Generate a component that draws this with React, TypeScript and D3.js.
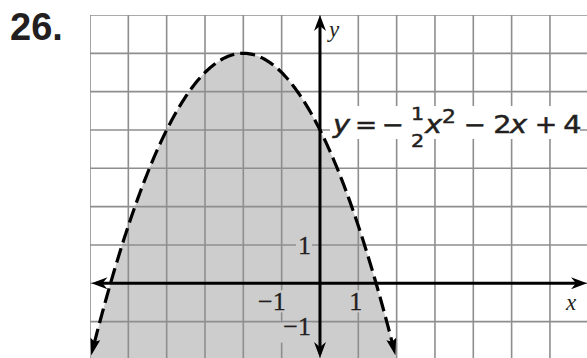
import React from "react";
import * as d3 from "d3";

const xGridValues = [-6, -5, -4, -3, -2, -1, 0, 1, 2, 3, 4, 5, 6, 7];
const yGridValues = [-2, -1, 0, 1, 2, 3, 4, 5, 6, 7];
const coefA = -0.5;
const coefB = -2;
const coefC = 4;
const curveXStart = -5.97;
const curveXEnd = 1.97;
const curveSamples = 200;
const xTickLabels = [
  { value: -1, text: "\u22121" },
  { value: 1, text: "1" },
];
const yTickLabels = [
  { value: 1, text: "1" },
  { value: -1, text: "\u22121" },
];
const titleText = "26.";

const W = 587;
const H = 358;
const GRAY = "#cdcdcd";
const GRID = "#8e8e8e";
const INK = "#231f20";

const f = (x: number) => coefA * x * x + coefB * x + coefC;

function arrowHead(tipX: number, tipY: number, angle: number, len: number, half: number, notch: number) {
  const cos = Math.cos(angle);
  const sin = Math.sin(angle);
  const bx = tipX - cos * len;
  const by = tipY - sin * len;
  const nx = -sin;
  const ny = cos;
  const p1 = [bx + nx * half, by + ny * half];
  const p2 = [bx - nx * half, by - ny * half];
  const pn = [tipX - cos * (len - notch), tipY - sin * (len - notch)];
  return `M${tipX},${tipY}L${p1[0]},${p1[1]}L${pn[0]},${pn[1]}L${p2[0]},${p2[1]}Z`;
}

function Glyph(props: {
  cx: number;
  by: number;
  size: number;
  sx?: number;
  italic?: boolean;
  children: React.ReactNode;
}) {
  const sx = props.sx ?? 1.15;
  return (
    <g transform={`translate(${props.cx},${props.by}) scale(${sx},1)`}>
      <text
        x={0}
        y={0}
        textAnchor="middle"
        fontFamily="'DejaVu Sans', sans-serif"
        fontSize={props.size}
        fontStyle={props.italic ? "italic" : "normal"}
        fill={INK}
        stroke={INK}
        strokeWidth={0.5}
      >
        {props.children}
      </text>
    </g>
  );
}

export default function App() {
  const x = d3.scaleLinear().domain([-6, 7]).range([90, 90 + 13 * 38.33]);
  const y = d3.scaleLinear().domain([-2, 7]).range([15 + 9 * 38.33, 15]);

  const pts: [number, number][] = d3.range(curveSamples + 1).map((i) => {
    const xv = curveXStart + ((curveXEnd - curveXStart) * i) / curveSamples;
    return [xv, f(xv)] as [number, number];
  });

  const line = d3
    .line<[number, number]>()
    .x((d) => x(d[0]))
    .y((d) => y(d[1]));

  const areaPts: [number, number][] = d3.range(curveSamples + 1).map((i) => {
    const xv = -6.5 + (9 * i) / curveSamples;
    return [xv, f(xv)] as [number, number];
  });
  const area = d3
    .area<[number, number]>()
    .x((d) => x(d[0]))
    .y0(() => y(-3))
    .y1((d) => y(d[1]));

  const gx0 = x(-6);
  const gy0 = y(7);

  const first = pts[0];
  const second = pts[3];
  const last = pts[pts.length - 1];
  const prev = pts[pts.length - 4];
  const angStart = Math.atan2(y(first[1]) - y(second[1]), x(first[0]) - x(second[0]));
  const angEnd = Math.atan2(y(last[1]) - y(prev[1]), x(last[0]) - x(prev[0]));

  const ax0 = x(0);
  const ay0 = y(0);

  return (
    <svg width={W} height={H} style={{ position: "absolute", left: 0, top: 0, background: "#fff" }}>
      <defs>
        <clipPath id="gridClip">
          <rect x={gx0} y={gy0} width={W - gx0} height={H - gy0} />
        </clipPath>
      </defs>
      <text
        x={10}
        y={40}
        fontFamily="'Liberation Sans', Arial, sans-serif"
        fontWeight="bold"
        fontSize={38}
        fill={INK}
      >
        {titleText}
      </text>
      <g clipPath="url(#gridClip)">
        <path d={area(areaPts) || ""} fill={GRAY} />
        {xGridValues.map((v) => (
          <line key={"gx" + v} x1={x(v)} x2={x(v)} y1={gy0} y2={H} stroke={GRID} strokeWidth={1.6} />
        ))}
        {yGridValues.map((v) => (
          <line key={"gy" + v} x1={gx0} x2={W} y1={y(v)} y2={y(v)} stroke={GRID} strokeWidth={1.6} />
        ))}
      </g>
      <rect x={330} y={106} width={250} height={33} fill="#fff" />
      {xTickLabels.map((t) => (
        <rect
          key={"xb" + t.value}
          x={x(t.value) - (t.value < 0 ? 27 : 7)}
          y={ay0 + 7}
          width={t.value < 0 ? 31 : 14}
          height={22}
          fill={GRAY}
        />
      ))}
      {yTickLabels.map((t) => (
        <rect
          key={"yb" + t.value}
          x={ax0 - (t.value < 0 ? 40 : 24)}
          y={y(t.value) - (t.value < 0 ? -1 : 10)}
          width={t.value < 0 ? 32 : 16}
          height={20}
          fill={GRAY}
        />
      ))}
      <line x1={x(-6) + 6} x2={W - 6} y1={ay0} y2={ay0} stroke="#000" strokeWidth={3} />
      <line x1={ax0} x2={ax0} y1={y(7) + 6} y2={H - 4} stroke="#000" strokeWidth={3} />
      <path d={arrowHead(x(-6) + 1.5, ay0, Math.PI, 16, 6, 5)} fill="#000" />
      <path d={arrowHead(W, ay0, 0, 16, 6, 5)} fill="#000" />
      <path d={arrowHead(ax0, y(7), -Math.PI / 2, 16, 6, 5)} fill="#000" />
      <path d={arrowHead(ax0, H, Math.PI / 2, 16, 6, 5)} fill="#000" />
      <path
        d={line(pts.slice(2, pts.length - 2)) || ""}
        fill="none"
        stroke="#000"
        strokeWidth={3.2}
        strokeDasharray="15 6"
      />
      <path d={arrowHead(x(first[0]), y(first[1]), angStart, 17, 5, 3)} fill="#000" />
      <path d={arrowHead(x(last[0]), y(last[1]), angEnd, 17, 5, 3)} fill="#000" />
      {xTickLabels.map((t) => (
        <text
          key={"xt" + t.value}
          x={x(t.value) + 4}
          y={ay0 + 27}
          textAnchor="end"
          fontFamily="'Liberation Serif', 'Times New Roman', serif"
          fontSize={26}
          fill={INK}
          stroke={INK}
          strokeWidth={0.3}
        >
          {t.text}
        </text>
      ))}
      {yTickLabels.map((t) => (
        <text
          key={"yt" + t.value}
          x={ax0 - 9}
          y={y(t.value) + (t.value < 0 ? 13 : 9)}
          textAnchor="end"
          fontFamily="'Liberation Serif', 'Times New Roman', serif"
          fontSize={26}
          fill={INK}
          stroke={INK}
          strokeWidth={0.3}
        >
          {t.text}
        </text>
      ))}
      <text
        x={ax0 + 9}
        y={37}
        fontFamily="'Liberation Serif', 'Times New Roman', serif"
        fontStyle="italic"
        fontSize={23}
        fill={INK}
      >
        y
      </text>
      <text
        x={566}
        y={310}
        fontFamily="'Liberation Serif', 'Times New Roman', serif"
        fontStyle="italic"
        fontSize={23}
        fill={INK}
      >
        x
      </text>
      <Glyph cx={341.5} by={133} size={25} italic>y</Glyph>
      <Glyph cx={366} by={133} size={24} sx={1.1}>=</Glyph>
      <Glyph cx={392.5} by={133} size={24} sx={1.1}>{"\u2212"}</Glyph>
      <Glyph cx={417.5} by={120} size={18}>1</Glyph>
      <Glyph cx={417.5} by={147} size={18}>2</Glyph>
      <Glyph cx={433.5} by={133} size={25} italic>x</Glyph>
      <Glyph cx={449} by={123} size={19}>2</Glyph>
      <Glyph cx={474.5} by={133} size={24} sx={1.1}>{"\u2212"}</Glyph>
      <Glyph cx={502.5} by={133} size={25}>2</Glyph>
      <Glyph cx={518.5} by={133} size={25} italic>x</Glyph>
      <Glyph cx={546} by={133} size={24} sx={1.12}>+</Glyph>
      <Glyph cx={572.5} by={133} size={25}>4</Glyph>
    </svg>
  );
}
